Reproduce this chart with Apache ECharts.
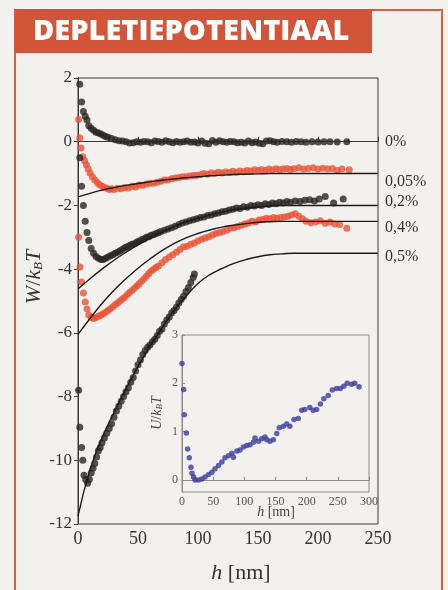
<!DOCTYPE html>
<html>
<head>
<meta charset="utf-8">
<script src="https://cdn.jsdelivr.net/npm/echarts@6/dist/echarts.min.js"></script>
<style>
html, body { margin: 0; padding: 0; background: #f3f1ee; }
#chart { width: 448px; height: 590px; }
</style>
</head>
<body>
<div id="chart"></div>
<script>
var pct0 = [[1.5,1.8],[3,1.25],[4.5,0.95],[6,0.8],[7.5,0.68],[9,0.5],[11,0.42],[13,0.36],[15,0.3],[17,0.27],[19,0.24],[21,0.2],[23,0.16],[25,0.14],[28,0.1],[31,0.06],[34,0.03],[37,0.02],[40,0.0],[43,-0.04],[46,-0.03],[49,0.0],[52,-0.02],[55,0.01],[58,0.0],[61,-0.03],[64,0.02],[67,0.01],[70,-0.02],[73,0.03],[76,0.0],[79,-0.03],[82,0.01],[85,-0.02],[88,0.0],[91,0.02],[94,-0.02],[97,-0.01],[100,-0.04],[103,0.02],[106,-0.05],[109,-0.06],[112,0.04],[115,-0.02],[118,0.03],[121,0.0],[124,-0.02],[127,0.01],[130,0.0],[133,-0.03],[136,-0.02],[139,-0.04],[142,0.02],[145,-0.03],[148,-0.01],[151,-0.05],[154,-0.06],[157,0.02],[160,0.03],[163,0.0],[166,-0.02],[170,0.01],[174,0.0],[178,-0.02],[182,0.01],[186,0.0],[190,-0.02],[195,0.0],[200,-0.01],[205,0.0],[210,0.0],[216,-0.01],[224,0.0]];
var pct005 = [[0.5,0.7],[1.5,0.12],[2.5,-0.2],[4,-0.47],[5.5,-0.6],[7,-0.72],[8.5,-0.85],[10,-0.98],[12,-1.1],[14,-1.2],[16,-1.28],[18,-1.35],[20,-1.4],[22,-1.44],[24,-1.46],[26,-1.5],[28,-1.48],[30,-1.5],[33,-1.46],[36,-1.48],[39,-1.44],[42,-1.45],[45,-1.4],[48,-1.42],[51,-1.36],[54,-1.37],[57,-1.33],[60,-1.3],[63,-1.3],[66,-1.27],[69,-1.24],[72,-1.2],[75,-1.2],[78,-1.16],[81,-1.14],[84,-1.12],[87,-1.1],[90,-1.1],[93,-1.08],[96,-1.06],[99,-1.05],[102,-1.04],[105,-1.0],[108,-1.02],[111,-0.98],[114,-1.0],[117,-0.96],[120,-0.98],[123,-0.95],[126,-0.97],[129,-0.93],[132,-0.96],[135,-0.92],[138,-0.94],[141,-0.9],[144,-0.92],[147,-0.88],[150,-0.9],[153,-0.87],[156,-0.9],[159,-0.86],[162,-0.89],[165,-0.85],[168,-0.88],[171,-0.86],[174,-0.84],[177,-0.87],[180,-0.85],[184,-0.82],[188,-0.86],[192,-0.84],[196,-0.82],[200,-0.86],[204,-0.83],[208,-0.85],[212,-0.84],[216,-0.9],[220,-0.86],[226,-0.88]];
var pct02 = [[1.5,-0.5],[3,-1.4],[4.5,-2.0],[6,-2.5],[7.5,-2.85],[9,-3.1],[11,-3.35],[13,-3.5],[15,-3.6],[17,-3.66],[19,-3.7],[21,-3.7],[23,-3.66],[25,-3.62],[27,-3.58],[29,-3.55],[31,-3.5],[33,-3.47],[35,-3.42],[37,-3.38],[39,-3.33],[41,-3.3],[43,-3.26],[45,-3.22],[47,-3.2],[49,-3.15],[51,-3.12],[53,-3.08],[55,-3.05],[57,-3.0],[59,-2.98],[61,-2.94],[63,-2.92],[65,-2.88],[67,-2.86],[69,-2.82],[72,-2.78],[75,-2.74],[78,-2.7],[81,-2.65],[84,-2.6],[87,-2.55],[90,-2.52],[93,-2.48],[96,-2.45],[99,-2.42],[102,-2.38],[105,-2.36],[108,-2.32],[111,-2.3],[114,-2.26],[117,-2.24],[120,-2.2],[123,-2.18],[126,-2.14],[129,-2.12],[132,-2.08],[135,-2.1],[138,-2.04],[141,-2.06],[144,-2.0],[147,-2.02],[150,-1.98],[153,-2.0],[156,-1.95],[159,-1.97],[162,-1.92],[165,-1.95],[168,-1.9],[171,-1.92],[174,-1.88],[177,-1.9],[181,-1.86],[185,-1.88],[189,-1.84],[193,-1.82],[197,-1.86],[201,-1.8],[206,-1.72],[213,-1.92],[221,-1.8]];
var pct04 = [[0.5,-3.0],[1.7,-3.93],[3,-4.4],[4.5,-4.75],[6,-5.03],[7.5,-5.25],[9,-5.44],[11,-5.52],[13,-5.55],[15,-5.52],[17,-5.48],[19,-5.45],[21,-5.4],[23,-5.35],[25,-5.3],[27,-5.24],[29,-5.18],[31,-5.12],[33,-5.06],[35,-5.0],[37,-4.94],[39,-4.88],[41,-4.8],[43,-4.73],[45,-4.67],[47,-4.6],[49,-4.53],[51,-4.46],[53,-4.38],[55,-4.3],[57,-4.22],[59,-4.14],[61,-4.06],[63,-4.0],[65,-3.95],[67,-3.9],[70,-3.8],[73,-3.7],[76,-3.62],[79,-3.55],[82,-3.47],[85,-3.38],[88,-3.3],[91,-3.28],[94,-3.22],[97,-3.18],[100,-3.12],[103,-3.06],[106,-3.02],[109,-2.98],[112,-2.93],[115,-2.88],[118,-2.85],[121,-2.82],[124,-2.78],[127,-2.72],[130,-2.7],[133,-2.66],[136,-2.62],[139,-2.58],[142,-2.55],[145,-2.5],[148,-2.52],[151,-2.46],[154,-2.44],[157,-2.4],[160,-2.42],[163,-2.38],[166,-2.4],[169,-2.38],[172,-2.36],[175,-2.34],[178,-2.3],[181,-2.26],[184,-2.34],[187,-2.42],[190,-2.5],[194,-2.54],[198,-2.52],[202,-2.48],[206,-2.56],[210,-2.52],[214,-2.58],[218,-2.6],[224,-2.72]];
var pct05 = [[0.5,-7.8],[1.5,-8.96],[3,-9.6],[4,-10.0],[5,-10.47],[6.5,-10.6],[8,-10.72],[9.5,-10.6],[11,-10.4],[12.5,-10.25],[14,-10.1],[15.5,-9.9],[17,-9.7],[18.5,-9.6],[20,-9.45],[22,-9.3],[24,-9.15],[26,-9.0],[28,-8.85],[30,-8.65],[32,-8.45],[34,-8.3],[36,-8.15],[38,-8.0],[40,-7.85],[42,-7.72],[44,-7.55],[46,-7.4],[48,-7.2],[50,-7.0],[52,-6.85],[54,-6.68],[56,-6.55],[58,-6.45],[60,-6.38],[62,-6.28],[64,-6.2],[66,-6.08],[68,-5.95],[70,-5.88],[72,-5.72],[74,-5.6],[76,-5.5],[78,-5.38],[80,-5.3],[82,-5.2],[84,-5.06],[86,-4.95],[88,-4.85],[90,-4.7],[92,-4.58],[94,-4.42],[96,-4.26],[97,-4.15]];

// fitted curves, read every 10 nm
var fit005 = [[0,-1.73],[10,-1.62],[20,-1.52],[30,-1.44],[40,-1.37],[50,-1.31],[60,-1.26],[70,-1.21],[80,-1.17],[90,-1.13],[100,-1.1],[110,-1.07],[120,-1.05],[130,-1.03],[140,-1.02],[150,-1.01],[160,-1.0],[170,-1.0],[200,-1.0],[250,-1.0]];
var fit02 = [[0,-4.62],[10,-4.3],[20,-4.0],[30,-3.72],[40,-3.47],[50,-3.24],[60,-3.03],[70,-2.84],[80,-2.67],[90,-2.52],[100,-2.4],[110,-2.3],[120,-2.21],[130,-2.14],[140,-2.09],[150,-2.05],[160,-2.02],[170,-2.0],[180,-2.0],[200,-2.0],[250,-2.0]];
var fit04 = [[0,-6.05],[10,-5.55],[20,-5.08],[30,-4.66],[40,-4.3],[50,-3.97],[60,-3.68],[70,-3.42],[80,-3.2],[90,-3.02],[100,-2.88],[110,-2.77],[120,-2.68],[130,-2.62],[140,-2.57],[150,-2.53],[160,-2.51],[170,-2.5],[200,-2.5],[250,-2.5]];
var fit05 = [[0,-11.75],[10,-10.3],[20,-9.3],[30,-8.5],[40,-7.75],[50,-7.05],[60,-6.42],[70,-5.85],[80,-5.3],[90,-4.85],[100,-4.45],[110,-4.17],[120,-3.98],[130,-3.82],[140,-3.7],[150,-3.61],[160,-3.55],[170,-3.52],[180,-3.5],[200,-3.5],[250,-3.5]];

// inset: U/kBT against h
var insetU = [[0,2.41],[2.7,1.87],[3.7,1.35],[7,0.97],[9,0.64],[11.7,0.46],[14.4,0.26],[16,0.14],[18.7,0.06],[21,0.0],[26.6,0.0],[32,0.02],[37,0.06],[42.6,0.11],[48,0.16],[53,0.23],[58.6,0.3],[64,0.37],[69,0.46],[74.6,0.5],[80,0.55],[82.6,0.47],[88,0.6],[93,0.62],[98.6,0.68],[104,0.71],[109,0.73],[114.6,0.78],[117,0.87],[122.6,0.8],[128,0.85],[133,0.89],[136,0.83],[141,0.8],[146.5,0.83],[152,0.96],[156,1.08],[162.5,1.11],[168,1.16],[173,1.11],[179.6,1.25],[186.5,1.27],[192,1.44],[197,1.46],[205,1.5],[210.5,1.44],[216,1.46],[222,1.57],[227.5,1.68],[234.5,1.75],[241,1.86],[248,1.89],[254,1.89],[259.5,1.94],[265,2.0],[272,1.98],[277,2.0],[284,1.93]];

var curveLabels = ['0%', '0,05%', '0,2%', '0,4%', '0,5%'];
var labelLevels = [0, -1.25, -1.9, -2.7, -3.6];

var serif = 'Liberation Serif';
var ink = '#333';
var black = '#2a2622';
var red = '#ea5438';
var blue = '#3b3d9e';

var chart = echarts.init(document.getElementById('chart'));

function dots(data, color) {
	return { type: 'scatter', data: data, symbolSize: 7,
		itemStyle: { color: color }, silent: true, z: 2 };
}
function fit(data) {
	return { type: 'line', data: data, smooth: true, showSymbol: false,
		lineStyle: { color: '#1b1b1b', width: 1.4 }, silent: true, z: 3 };
}

chart.setOption({
	animation: false,
	backgroundColor: '#f3f1ee',
	grid: [
		{ left: 78, top: 78, width: 300, height: 446, show: true, borderColor: '#3a3a3a', borderWidth: 1 },
		{ left: 182, top: 335, width: 187, height: 157, show: true, borderColor: '#8a8a8a', borderWidth: 1 }
	],
	xAxis: [
		{ gridIndex: 0, type: 'value', min: 0, max: 250, interval: 50,
			axisLine: { lineStyle: { color: '#3a3a3a' } },
			axisTick: { inside: true, length: 5, lineStyle: { color: '#3a3a3a' } },
			minorTick: { show: true, splitNumber: 2, length: 3, lineStyle: { color: '#3a3a3a' } },
			splitLine: { show: false },
			axisLabel: { color: ink, fontFamily: serif, fontSize: 18, margin: 6 } },
		{ gridIndex: 1, type: 'value', min: 0, max: 300, interval: 50,
			axisLine: { lineStyle: { color: '#8a8a8a' } },
			axisTick: { inside: true, length: 3, lineStyle: { color: '#8a8a8a' } },
			splitLine: { show: false },
			axisLabel: { color: '#555', fontFamily: serif, fontSize: 12, margin: 4 } }
	],
	yAxis: [
		{ gridIndex: 0, type: 'value', min: -12, max: 2, interval: 2,
			axisLine: { show: true, lineStyle: { color: '#3a3a3a' } },
			axisTick: { show: true, length: 4, lineStyle: { color: '#3a3a3a' } },
			splitLine: { show: false },
			axisLabel: { color: ink, fontFamily: serif, fontSize: 17, margin: 6 } },
		{ gridIndex: 1, type: 'value', min: -0.25, max: 3,
			axisLine: { show: true, lineStyle: { color: '#8a8a8a' } },
			axisTick: { show: true, inside: true, length: 3, customValues: [0, 1, 2, 3], lineStyle: { color: '#8a8a8a' } },
			splitLine: { show: false },
			axisLabel: { color: '#555', fontFamily: serif, fontSize: 12, margin: 4, customValues: [0, 1, 2, 3] } }
	],
	series: [
		dots(pct0, black), dots(pct005, red), dots(pct02, black), dots(pct04, red), dots(pct05, black),
		fit(fit005), fit(fit02), fit(fit04), fit(fit05),
		{ type: 'scatter', xAxisIndex: 1, yAxisIndex: 1, data: insetU, symbolSize: 5.5,
			itemStyle: { color: blue }, silent: true }
	]
});

var graphics = [
	// panel frame and title bar
	{ type: 'polyline', shape: { points: [[15, 590], [15, 10], [442, 10], [442, 590]] },
		style: { stroke: '#d95d3e', lineWidth: 2, fill: null }, z: 10 },
	{ type: 'rect', shape: { x: 15, y: 9, width: 357, height: 44 }, style: { fill: '#d2553a' }, z: 10 },
	{ type: 'text', x: 33, y: 32, z: 11,
		style: { text: 'DEPLETIEPOTENTIAAL', fill: '#fff', font: '800 29px "Open Sans"', verticalAlign: 'middle' } },
	// axis titles
	{ type: 'text', x: 241, y: 573, z: 11,
		style: { text: '{i|h} [nm]', fill: ink, font: '22px "Liberation Serif"', align: 'center', verticalAlign: 'middle',
			rich: { i: { fontStyle: 'italic', fontFamily: serif, fontSize: 22 } } } },
	{ type: 'text', x: 34, y: 277, rotation: Math.PI / 2, z: 11,
		style: { text: '{i|W}/{i|k}{s|B}{i|T}', fill: ink, font: '22px "Liberation Serif"', align: 'center', verticalAlign: 'middle',
			rich: { i: { fontStyle: 'italic', fontFamily: serif, fontSize: 22, lineHeight: 22 },
				s: { fontStyle: 'italic', fontFamily: serif, fontSize: 13, lineHeight: 13, verticalAlign: 'bottom' } } } },
	{ type: 'text', x: 276, y: 512, z: 11,
		style: { text: '{i|h} [nm]', fill: '#444', font: '14px "Liberation Serif"', align: 'center', verticalAlign: 'middle',
			rich: { i: { fontStyle: 'italic', fontFamily: serif, fontSize: 14 } } } },
	{ type: 'text', x: 157, y: 413, rotation: Math.PI / 2, z: 11,
		style: { text: '{i|U}/{i|k}{s|B}{i|T}', fill: '#444', font: '14px "Liberation Serif"', align: 'center', verticalAlign: 'middle',
			rich: { i: { fontStyle: 'italic', fontFamily: serif, fontSize: 14, lineHeight: 14 },
				s: { fontStyle: 'italic', fontFamily: serif, fontSize: 9, lineHeight: 9, verticalAlign: 'bottom' } } } }
];

// concentration labels to the right of the plot
curveLabels.forEach(function (txt, i) {
	var p = chart.convertToPixel({ gridIndex: 0 }, [250, labelLevels[i]]);
	graphics.push({ type: 'text', x: p[0] + 7, y: p[1], z: 11,
		style: { text: txt, fill: ink, font: '16px "Liberation Serif"', verticalAlign: 'middle' } });
});

chart.setOption({ graphic: graphics });
</script>
</body>
</html>
